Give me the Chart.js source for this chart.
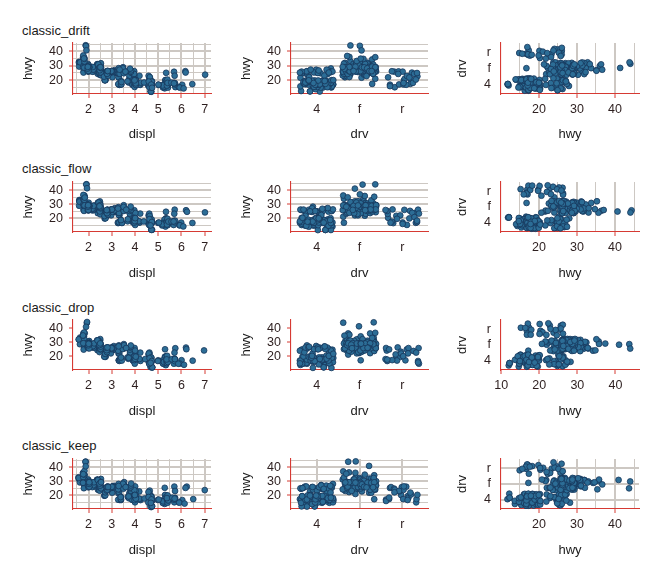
<!DOCTYPE html>
<html>
<head>
<meta charset="utf-8">
<script src="https://cdn.jsdelivr.net/npm/chart.js@4.4.1/dist/chart.umd.min.js"></script>
<style>
  html, body { margin: 0; padding: 0; background: #fff; }
  #page { position: relative; width: 672px; height: 576px; font-family: "Liberation Sans", Arial, sans-serif; }
  #page canvas { position: absolute; }
  .row-title { position: absolute; left: 22px; font-size: 13px; line-height: 16px; color: #1a1a1a; }
</style>
</head>
<body>
<div id="page"></div>
<script>
// ggplot-style theme comparison, mpg data (displ / hwy / drv), jittered points

const themeNames = ['classic_drift', 'classic_flow', 'classic_drop', 'classic_keep'];
const drvLevels = ['4', 'f', 'r'];
const displBreaks = [1.5, 2, 2.5, 3, 3.5, 4, 4.5, 5, 5.5, 6, 6.5, 7];
const hwyBreaks = [10, 15, 20, 25, 30, 35, 40, 45];
const drvBreaks = [1, 2, 3];

const displ = [
  1.8, 1.8, 2.0, 2.0, 2.8, 2.8, 3.1, 1.8, 1.8, 2.0, 2.0, 2.8, 2.8, 3.1, 3.1, 2.8, 3.1, 4.2,
  5.3, 5.3, 5.3, 5.7, 6.0, 5.7, 5.7, 6.2, 6.2, 7.0, 5.3, 5.3, 5.7, 6.5, 2.4, 2.4, 3.1, 3.5, 3.6,
  2.4, 3.0, 3.3, 3.3, 3.3, 3.3, 3.3, 3.8, 3.8, 3.8, 4.0, 3.7, 3.7, 3.9, 3.9, 4.7, 4.7, 4.7, 5.2, 5.2,
  3.9, 4.7, 4.7, 4.7, 5.2, 5.7, 5.9, 4.7, 4.7, 4.7, 4.7, 4.7, 4.7, 5.2, 5.2, 5.7, 5.9,
  4.6, 5.4, 5.4, 4.0, 4.0, 4.0, 4.0, 4.6, 5.0, 4.2, 4.2, 4.6, 4.6, 4.6, 5.4, 5.4, 3.8, 3.8, 4.0, 4.0, 4.6, 4.6, 4.6, 4.6, 5.4,
  1.6, 1.6, 1.6, 1.6, 1.6, 1.8, 1.8, 1.8, 2.0,
  2.4, 2.4, 2.4, 2.4, 2.5, 2.5, 3.3, 2.0, 2.0, 2.0, 2.0, 2.7, 2.7, 2.7,
  3.0, 3.7, 4.0, 4.7, 4.7, 4.7, 5.7, 6.1,
  4.0, 4.2, 4.4, 4.6, 5.4, 5.4, 5.4, 4.0, 4.0, 4.6, 5.0,
  2.4, 2.4, 2.5, 2.5, 3.5, 3.5, 3.0, 3.0, 3.5, 3.3, 3.3, 4.0, 5.6,
  3.1, 3.8, 3.8, 3.8, 5.3,
  2.5, 2.5, 2.5, 2.5, 2.5, 2.5, 2.2, 2.2, 2.5, 2.5, 2.5, 2.5, 2.5, 2.5,
  2.7, 2.7, 3.4, 3.4, 4.0, 4.7, 2.2, 2.2, 2.4, 2.4, 3.0, 3.0, 3.5, 2.2, 2.2, 2.4, 2.4, 3.0, 3.0, 3.3,
  1.8, 1.8, 1.8, 1.8, 1.8, 4.7, 5.7, 2.7, 2.7, 2.7, 3.4, 3.4, 4.0, 4.0,
  2.0, 2.0, 2.0, 2.0, 2.8, 1.9, 2.0, 2.0, 2.0, 2.0, 2.5, 2.5, 2.8, 2.8, 1.9, 1.9, 2.0, 2.0, 2.5, 2.5,
  1.8, 1.8, 2.0, 2.0, 2.8, 2.8, 3.6
];

const hwy = [
  29, 29, 31, 30, 26, 26, 27, 26, 25, 28, 27, 25, 25, 25, 25, 24, 25, 23,
  20, 15, 20, 17, 17, 26, 23, 26, 25, 24, 19, 14, 15, 17, 27, 30, 26, 29, 26,
  24, 24, 22, 22, 24, 24, 17, 22, 21, 23, 23, 19, 18, 17, 17, 19, 19, 12, 17, 15,
  17, 17, 12, 17, 16, 18, 15, 16, 12, 17, 17, 16, 16, 15, 16, 17, 15,
  17, 17, 18, 17, 19, 17, 19, 19, 17, 17, 17, 16, 16, 17, 15, 17, 26, 25, 26, 24, 21, 22, 23, 22, 20,
  33, 32, 32, 29, 32, 34, 36, 36, 29,
  26, 27, 30, 31, 26, 26, 28, 26, 29, 28, 27, 24, 24, 24,
  22, 19, 20, 17, 12, 19, 18, 14,
  15, 18, 18, 15, 17, 16, 18, 17, 19, 19, 17,
  29, 27, 31, 32, 27, 26, 26, 25, 25, 17, 17, 20, 18,
  26, 26, 27, 28, 25,
  25, 24, 27, 25, 26, 23, 26, 26, 26, 26, 25, 27, 25, 27,
  20, 20, 19, 17, 20, 17, 29, 27, 31, 31, 26, 26, 28, 27, 29, 31, 31, 26, 26, 27,
  30, 33, 35, 37, 35, 15, 18, 20, 20, 22, 17, 19, 18, 20,
  29, 26, 29, 29, 24, 44, 29, 26, 29, 29, 29, 29, 23, 24, 44, 41, 29, 26, 28, 29,
  29, 29, 28, 29, 26, 26, 26
];

const drv = [
  'fffffff', '44444444', '444',
  'rrrrr', 'rrrrr', '4444', 'fffff',
  'fffff', 'ffffff', '444444444', '4444444', '44444', '44444',
  'rrr', '444444', '4444444', 'rrrrrrrrr',
  'fffffffff',
  'fffffff', 'fffffff',
  '4444', '4444',
  '4444', 'rrr', '4444',
  'ffffff', 'fff', '4444',
  'fffff',
  '444444', '4444', '4444',
  '444444', 'fffffff', 'fffffff', 'fffff', '44', '4444444',
  'fffff', 'fffff', 'ffff', 'ffffff', 'fffffff'
].join('').split('');

// fixed jitter offsets (fraction of the jitter width)
const jitterTable = [
  0.62, -0.35, 0.88, -0.91, 0.14, -0.07, 0.45, -0.66, 0.97, -0.22, 0.31, -0.83, 0.05, 0.74, -0.48,
  -0.12, 0.56, -0.95, 0.27, 0.83, -0.59, 0.09, -0.31, 0.69, -0.77, 0.41, -0.03, 0.92, -0.44, 0.18,
  -0.69, 0.36, 0.79, -0.16, -0.88, 0.51, -0.27, 0.02, 0.65, -0.53, 0.23, -0.98, 0.47, -0.09, 0.86,
  -0.39, 0.12, -0.72, 0.58, -0.19, 0.95, -0.61, 0.33, -0.85, 0.07, 0.71, -0.46, 0.26, -0.24, 0.81, -0.57
];

// which panels draw grid lines inside the plot (rows = themes, cols = panels)
const gridX = [[1, 0, 1], [0, 0, 1], [0, 0, 0], [1, 1, 1]];
const gridY = [[1, 1, 0], [1, 1, 0], [0, 0, 0], [1, 1, 1]];

const panelCols = [
  { x: 'displ', y: 'hwy', xLim: [1.33, 7.27], yLim: [10.3, 45.8] },
  { x: 'drv', y: 'hwy', xLim: [0.4, 3.6], yLim: [10.3, 45.8] },
  { x: 'hwy', y: 'drv', xLim: [10.05, 46.3], yLim: [0.4, 3.6] }
];

const fontFamily = '"Liberation Sans", Arial, sans-serif';
const red = '#d63a33';
const gridGrey = '#cdc8c3';
const pointFill = '#2c6d96';
const pointEdge = '#17365a';

const rowPlotTop = [43, 182, 320, 459];
const rowPlotH = [51, 50, 50, 50];
const rowTitleY = [23, 161, 300, 438];
const colAxisW = [73, 67, 53];
const colRightPad = [13, 20, 33];
const colTitlePad = [20.5, 15, 7];

function isMajor(kind, v) {
  if (kind === 'displ') return Number.isInteger(v);
  if (kind === 'hwy') return v % 10 === 0;
  return true;
}

function breaksFor(kind) {
  if (kind === 'displ') return displBreaks;
  if (kind === 'hwy') return hwyBreaks;
  return drvBreaks;
}

function valuesFor(kind, i) {
  if (kind === 'displ') return displ[i];
  if (kind === 'hwy') return hwy[i];
  return drvLevels.indexOf(drv[i]) + 1;
}

function jitterWidth(kind) {
  if (kind === 'displ') return 0.04;
  return 0.4;
}

function axisOptions(kind, isX, showGrid, limits, size, titlePad) {
  const discrete = kind === 'drv';
  const breaks = breaksFor(kind);
  return {
    type: 'linear',
    position: isX ? 'bottom' : 'left',
    min: limits[0],
    max: limits[1],
    afterBuildTicks: s => {
      s.ticks = breaks.filter(v => v >= s.min && v <= s.max).map(v => ({ value: v }));
    },
    afterFit: s => {
      if (isX) s.height = size; else s.width = size;
    },
    border: { display: true, color: red, width: 1.1 },
    grid: {
      display: true,
      drawOnChartArea: !!showGrid,
      drawTicks: !discrete,
      tickLength: 4,
      color: gridGrey,
      lineWidth: ctx => (ctx.tick && isMajor(kind, ctx.tick.value)) ? 2 : 1,
      tickColor: ctx => (ctx.tick && isMajor(kind, ctx.tick.value)) ? red : 'rgba(0,0,0,0)',
      tickWidth: 1
    },
    ticks: {
      autoSkip: false,
      maxRotation: 0,
      padding: isX ? (discrete ? 8 : 4) : (discrete ? 10 : 6),
      color: '#2d1f1f',
      font: { family: fontFamily, size: 12.5 },
      callback: v => discrete ? drvLevels[v - 1] : (isMajor(kind, v) ? String(v) : '')
    },
    title: {
      display: true,
      text: kind,
      color: '#1a1a1a',
      font: { family: fontFamily, size: 13 },
      padding: isX ? { top: 0, bottom: 1.7 } : { top: titlePad, bottom: 0 }
    }
  };
}

function buildPoints(col, panelIdx) {
  const n = jitterTable.length;
  const pts = [];
  for (let i = 0; i < hwy.length; i++) {
    const jx = jitterTable[(i * 7 + panelIdx * 17) % n];
    const jy = jitterTable[(i * 13 + panelIdx * 29 + 5) % n];
    pts.push({
      x: valuesFor(col.x, i) + jx * jitterWidth(col.x),
      y: valuesFor(col.y, i) + jy * jitterWidth(col.y)
    });
  }
  return pts;
}

function drawPanel(page, row, c) {
  const col = panelCols[c];
  const canvas = document.createElement('canvas');
  canvas.width = 224;
  canvas.height = 144;
  canvas.style.left = (c * 224) + 'px';
  canvas.style.top = (rowPlotTop[row] - 43) + 'px';
  page.appendChild(canvas);

  let xLim = col.xLim;
  if (row === 2 && c === 2) xLim = [9.95, 46.2];

  new Chart(canvas, {
    type: 'scatter',
    data: {
      datasets: [{
        data: buildPoints(col, row * 3 + c),
        backgroundColor: pointFill,
        borderColor: pointEdge,
        borderWidth: 0.8,
        pointRadius: 2.9,
        clip: false
      }]
    },
    options: {
      responsive: false,
      animation: false,
      devicePixelRatio: 1,
      layout: { padding: { top: 43, right: colRightPad[c], left: 0, bottom: 0 } },
      plugins: { legend: { display: false }, tooltip: { enabled: false } },
      scales: {
        x: axisOptions(col.x, true, gridX[row][c], xLim, 144 - 43 - rowPlotH[row], 0),
        y: axisOptions(col.y, false, gridY[row][c], col.yLim, colAxisW[c], colTitlePad[c])
      }
    }
  });
}

function renderPage() {
  const page = document.getElementById('page');
  themeNames.forEach((name, row) => {
    const t = document.createElement('div');
    t.className = 'row-title';
    t.style.top = rowTitleY[row] + 'px';
    t.textContent = name;
    page.appendChild(t);
    for (let c = 0; c < 3; c++) drawPanel(page, row, c);
  });
}

renderPage();
</script>
</body>
</html>
